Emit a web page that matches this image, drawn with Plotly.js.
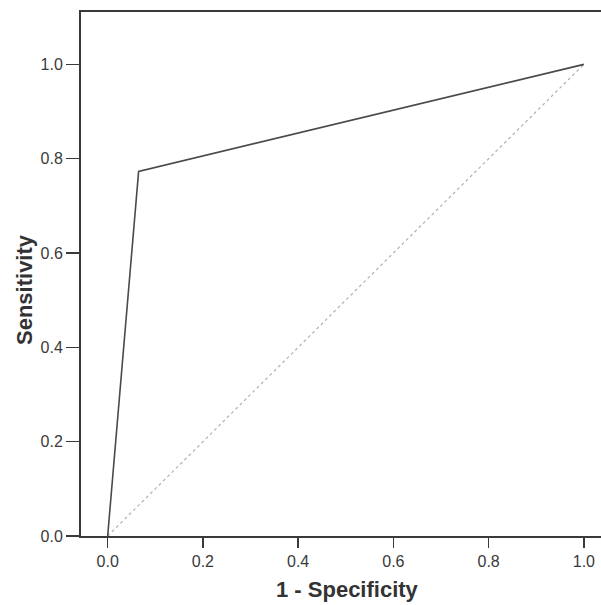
<!DOCTYPE html>
<html>
<head>
<meta charset="utf-8">
<script src="https://cdn.plot.ly/plotly-3.0.1.min.js"></script>
<style>html,body{margin:0;padding:0;background:#fff;overflow:hidden;}</style>
</head>
<body>
<div id="chart" style="width:601px;height:605px;"></div>
<script>
// ROC curve data
const rocFPR = [0.0, 0.065, 1.0];
const rocTPR = [0.0, 0.773, 1.0];
const refX = [0.0, 1.0];
const refY = [0.0, 1.0];
const xTicks = [0.0, 0.2, 0.4, 0.6, 0.8, 1.0];
const xTickText = ['0.0', '0.2', '0.4', '0.6', '0.8', '1.0'];
const yTicks = [0.0, 0.2, 0.4, 0.6, 0.8, 1.0];
const yTickText = ['0.0', '0.2', '0.4', '0.6', '0.8', '1.0'];

const traces = [
  {x: refX, y: refY, mode: 'lines', line: {color: '#b0b0b0', width: 1.2, dash: 'dot'}, hoverinfo: 'skip', showlegend: false},
  {x: rocFPR, y: rocTPR, mode: 'lines', line: {color: '#4a4a4a', width: 1.6}, showlegend: false}
];

const tickFont = {family: 'Liberation Sans, Arial, sans-serif', size: 16, color: '#3a3a3a'};
const layout = {
  width: 601, height: 605,
  margin: {l: 81, r: 0, t: 12, b: 69, pad: 0},
  paper_bgcolor: '#ffffff', plot_bgcolor: '#ffffff',
  showlegend: false,
  xaxis: {
    range: [-0.056, 1.036], tickvals: xTicks, ticktext: xTickText,
    showgrid: false, zeroline: false, showline: true, mirror: true,
    linecolor: '#3a3a3a', linewidth: 2,
    ticks: 'outside', ticklen: 10, tickwidth: 1.5, tickcolor: '#3a3a3a',
    tickfont: tickFont, fixedrange: true
  },
  yaxis: {
    range: [0, 1.111], tickvals: yTicks, ticktext: yTickText,
    showgrid: false, zeroline: false, showline: true, mirror: false,
    linecolor: '#3a3a3a', linewidth: 2,
    ticks: 'outside', ticklen: 13, tickwidth: 1.5, tickcolor: '#3a3a3a',
    tickfont: tickFont, fixedrange: true
  },
  annotations: [
    {text: '<b>1 - Specificity</b>', xref: 'paper', yref: 'paper', x: 0, y: 0,
     xanchor: 'center', yanchor: 'middle', showarrow: false,
     font: {family: 'Liberation Sans, Arial, sans-serif', size: 22, color: '#333333'}},
    {text: '<b>Sensitivity</b>', xref: 'paper', yref: 'paper', x: 0, y: 0, textangle: -90,
     xanchor: 'center', yanchor: 'middle', showarrow: false,
     font: {family: 'Liberation Sans, Arial, sans-serif', size: 22, color: '#333333'}}
  ]
};
// position titles in pixel terms
const plotW = 601 - 81, plotH = 605 - 12 - 69;
layout.annotations[0].x = (347 - 81) / plotW;
layout.annotations[0].y = (605 - 69 - 589) / plotH;
layout.annotations[1].x = (24 - 81) / plotW;
layout.annotations[1].y = (605 - 69 - 290) / plotH;

Plotly.newPlot('chart', traces, layout, {displayModeBar: false, staticPlot: true});
</script>
</body>
</html>
